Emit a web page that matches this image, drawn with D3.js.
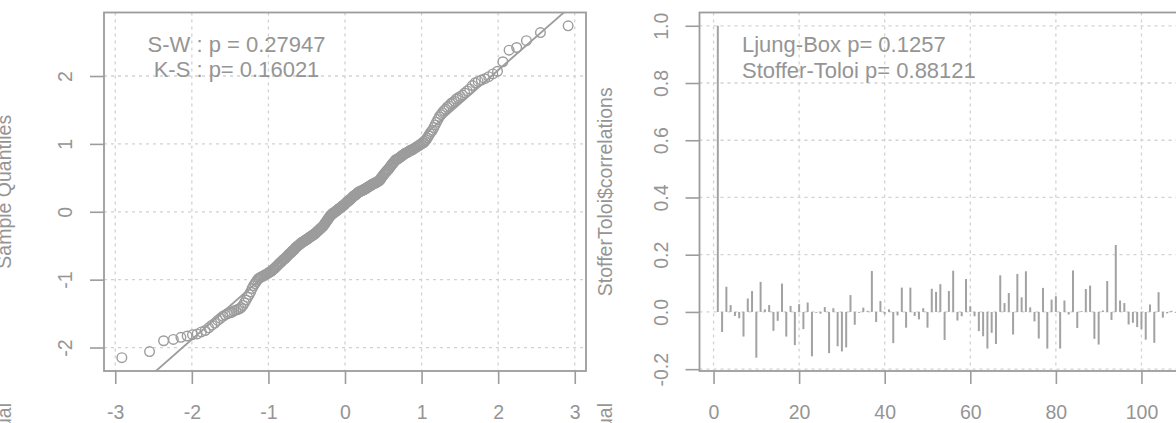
<!DOCTYPE html>
<html>
<head>
<meta charset="utf-8">
<script src="https://cdn.jsdelivr.net/npm/d3@7"></script>
<style>
  html, body { margin: 0; padding: 0; background: #fff; }
  svg text { font-family: "Liberation Sans", Arial, Helvetica, sans-serif; }
</style>
</head>
<body>
<svg id="chart" width="1176" height="423"></svg>
<script>
// Sorted standardized residuals (sample quantiles for the normal QQ plot)
const residuals = [
  -2.15,-2.06,-1.90,-1.88,-1.85,-1.83,-1.81,-1.80,-1.77,-1.75,
  -1.71,-1.67,-1.64,-1.60,-1.57,-1.54,-1.52,-1.50,-1.49,-1.48,
  -1.46,-1.45,-1.44,-1.43,-1.41,-1.38,-1.34,-1.30,-1.26,-1.22,
  -1.18,-1.13,-1.09,-1.06,-1.03,-1.00,-0.98,-0.97,-0.96,-0.95,
  -0.94,-0.93,-0.92,-0.91,-0.90,-0.89,-0.88,-0.87,-0.85,-0.84,
  -0.83,-0.81,-0.80,-0.78,-0.77,-0.75,-0.74,-0.73,-0.71,-0.70,
  -0.69,-0.68,-0.66,-0.65,-0.63,-0.62,-0.61,-0.60,-0.58,-0.57,
  -0.565,-0.55,-0.53,-0.52,-0.51,-0.50,-0.49,-0.48,-0.47,-0.46,
  -0.45,-0.44,-0.44,-0.43,-0.42,-0.41,-0.41,-0.40,-0.39,-0.38,
  -0.37,-0.37,-0.36,-0.35,-0.34,-0.34,-0.33,-0.32,-0.31,-0.30,
  -0.29,-0.28,-0.27,-0.26,-0.25,-0.24,-0.23,-0.22,-0.21,-0.20,
  -0.18,-0.17,-0.15,-0.14,-0.12,-0.11,-0.09,-0.08,-0.06,-0.05,
  -0.04,-0.03,-0.02,-0.02,-0.01,0.00,0.01,0.01,0.02,0.03,
  0.04,0.05,0.05,0.06,0.07,0.08,0.09,0.09,0.10,0.11,
  0.12,0.13,0.14,0.15,0.16,0.16,0.17,0.18,0.19,0.20,
  0.21,0.22,0.23,0.24,0.24,0.25,0.26,0.27,0.28,0.29,
  0.29,0.30,0.30,0.31,0.31,0.32,0.32,0.33,0.33,0.34,
  0.35,0.35,0.36,0.37,0.37,0.38,0.39,0.39,0.40,0.41,
  0.41,0.42,0.42,0.43,0.43,0.44,0.45,0.45,0.46,0.47,
  0.49,0.51,0.52,0.54,0.55,0.57,0.58,0.59,0.61,0.62,
  0.63,0.65,0.67,0.68,0.70,0.71,0.73,0.74,0.76,0.77,
  0.775,0.78,0.79,0.80,0.81,0.82,0.83,0.84,0.85,0.86,
  0.87,0.87,0.88,0.89,0.90,0.91,0.91,0.92,0.93,0.94,
  0.95,0.96,0.97,0.98,0.99,1.00,1.01,1.02,1.04,1.06,
  1.09,1.12,1.15,1.18,1.20,1.24,1.28,1.32,1.36,1.40,
  1.43,1.46,1.49,1.51,1.54,1.56,1.59,1.61,1.63,1.66,
  1.68,1.70,1.72,1.75,1.78,1.81,1.86,1.90,1.92,1.94,
  1.96,1.99,2.03,2.07,2.21,2.38,2.42,2.52,2.64,2.74
];

// Stoffer-Toloi correlations by lag (lag 1 .. 108)
const stofferToloi = [
  1.000,-0.070,0.088,0.024,-0.014,-0.022,-0.086,0.047,0.073,-0.160,
  0.105,0.009,0.024,-0.066,-0.031,0.099,-0.086,0.021,-0.116,0.027,
  -0.060,0.033,-0.155,-0.003,-0.006,0.017,-0.144,0.013,-0.120,-0.138,
  -0.124,0.059,-0.045,-0.003,0.015,0.004,0.143,-0.035,0.038,-0.008,
  0.009,-0.109,-0.012,0.085,-0.055,0.085,-0.014,-0.026,0.013,-0.055,
  0.081,0.070,0.097,-0.098,0.073,0.144,-0.030,-0.015,0.115,0.020,
  -0.015,-0.067,-0.085,-0.128,-0.073,-0.112,0.128,0.031,0.066,-0.079,
  0.133,0.051,0.142,0.016,-0.033,-0.093,0.084,-0.128,0.043,0.055,
  -0.128,0.040,-0.009,0.145,-0.056,0.003,0.080,0.092,-0.094,-0.114,
  0.005,0.108,-0.028,0.234,0.040,0.031,-0.044,-0.038,-0.053,-0.060,
  -0.097,0.026,-0.108,0.069,-0.020,-0.005,0.004,-0.003
];
const lags = stofferToloi.map((_, i) => i + 1);

const qqXTicks = [-3, -2, -1, 0, 1, 2, 3];
const qqYTicks = [-2, -1, 0, 1, 2];
const acfXTicks = [0, 20, 40, 60, 80, 100];
const acfYTicks = [-0.2, 0.0, 0.2, 0.4, 0.6, 0.8, 1.0];

const qqNotes = ["S-W : p = 0.27947", "K-S : p= 0.16021"];
const acfNotes = ["Ljung-Box p= 0.1257", "Stoffer-Toloi p= 0.88121"];
const qqYLabel = "Sample Quantiles";
const acfYLabel = "StofferToloi$correlations";
const lowerYLabel = "Residual";

// ---- style ----
const GRAY = "#9c9c9c";
const TEXT = "#959595";
const GRID = "#d2d2d2";
const TICK_FONT = 19.5;
const NOTE_FONT = 22;

// inverse standard normal CDF (Acklam)
function qnorm(p) {
  const a = [-3.969683028665376e+01, 2.209460984245205e+02, -2.759285104469687e+02, 1.383577518672690e+02, -3.066479806614716e+01, 2.506628277459239e+00];
  const b = [-5.447609879822406e+01, 1.615858368580409e+02, -1.556989798598866e+02, 6.680131188771972e+01, -1.328068155288572e+01];
  const c = [-7.784894002430293e-03, -3.223964580411365e-01, -2.400758277161838e+00, -2.549732539343734e+00, 4.374664141464968e+00, 2.938163982698783e+00];
  const d = [7.784695709041462e-03, 3.224671290700398e-01, 2.445134137142996e+00, 3.754408661907416e+00];
  const pl = 0.02425;
  if (p < pl) {
    const q = Math.sqrt(-2 * Math.log(p));
    return (((((c[0]*q+c[1])*q+c[2])*q+c[3])*q+c[4])*q+c[5]) / ((((d[0]*q+d[1])*q+d[2])*q+d[3])*q+1);
  }
  if (p > 1 - pl) {
    const q = Math.sqrt(-2 * Math.log(1 - p));
    return -(((((c[0]*q+c[1])*q+c[2])*q+c[3])*q+c[4])*q+c[5]) / ((((d[0]*q+d[1])*q+d[2])*q+d[3])*q+1);
  }
  const q = p - 0.5, r = q * q;
  return (((((a[0]*r+a[1])*r+a[2])*r+a[3])*r+a[4])*r+a[5])*q / (((((b[0]*r+b[1])*r+b[2])*r+b[3])*r+b[4])*r+1);
}

// R-style 4% axis expansion
function expand(ext) {
  const pad = (ext[1] - ext[0]) * 0.04;
  return [ext[0] - pad, ext[1] + pad];
}

// plain ASCII hyphen for negatives, as R prints them
const intFmt = d => String(d);
const oneDecFmt = d => d.toFixed(1);

const svg = d3.select("#chart");
svg.append("rect").attr("width", 1176).attr("height", 423).attr("fill", "#fff");

const TOP = 12.5, BOTTOM = 371;

function drawFrame(g, x, y, xTicks, yTicks, yFmt, clipId) {
  const [x0, x1] = x.range();
  // dotted grid
  g.append("g").selectAll("line").data(xTicks).join("line")
    .attr("x1", d => x(d)).attr("x2", d => x(d))
    .attr("y1", TOP).attr("y2", BOTTOM)
    .attr("stroke", GRID).attr("stroke-width", 1.3).attr("stroke-dasharray", "3,4");
  g.append("g").selectAll("line").data(yTicks).join("line")
    .attr("x1", x0).attr("x2", x1)
    .attr("y1", d => y(d)).attr("y2", d => y(d))
    .attr("stroke", GRID).attr("stroke-width", 1.3).attr("stroke-dasharray", "3,4");

  // bottom axis
  const xa = g.append("g").attr("transform", `translate(0,${BOTTOM})`)
    .call(d3.axisBottom(x).tickValues(xTicks).tickSize(13).tickSizeOuter(0).tickPadding(21)
      .tickFormat(intFmt));
  // left axis with labels turned parallel to the axis
  const ya = g.append("g").attr("transform", `translate(${x0},0)`)
    .call(d3.axisLeft(y).tickValues(yTicks).tickSize(14).tickSizeOuter(0).tickFormat(yFmt));
  ya.selectAll(".tick text")
    .attr("x", 0).attr("dy", null)
    .attr("text-anchor", "middle")
    .attr("transform", "translate(-32,0) rotate(-90)");
  [xa, ya].forEach(a => {
    a.select(".domain").remove();
    a.selectAll(".tick line").attr("stroke", GRAY).attr("stroke-width", 1.6);
    a.selectAll(".tick text").attr("fill", TEXT).attr("font-size", TICK_FONT)
      .attr("font-family", "'Liberation Sans', Arial, sans-serif");
  });

  // plot box
  g.append("rect")
    .attr("x", x0).attr("y", TOP).attr("width", x1 - x0).attr("height", BOTTOM - TOP)
    .attr("fill", "none").attr("stroke", GRAY).attr("stroke-width", 1.8);

  g.append("clipPath").attr("id", clipId).append("rect")
    .attr("x", x0).attr("y", TOP).attr("width", x1 - x0).attr("height", BOTTOM - TOP);
}

// ================= left: normal QQ plot =================
const n = residuals.length;
const theo = residuals.map((_, i) => qnorm((i + 1 - 0.5) / n));
const qq = residuals.map((v, i) => ({ t: theo[i], s: v }));

const xQ = d3.scaleLinear().domain(expand(d3.extent(theo))).range([104, 586]);
const yQ = d3.scaleLinear().domain(expand(d3.extent(residuals))).range([BOTTOM, TOP]);

const gL = svg.append("g");
drawFrame(gL, xQ, yQ, qqXTicks, qqYTicks, intFmt, "clipQQ");

// reference line through the quartiles
const q1 = d3.quantile(residuals, 0.25), q3 = d3.quantile(residuals, 0.75);
const z1 = qnorm(0.25), z3 = qnorm(0.75);
const slope = (q3 - q1) / (z3 - z1);
const intercept = q1 - slope * z1;
const [dx0, dx1] = xQ.domain();
gL.append("line")
  .attr("clip-path", "url(#clipQQ)")
  .attr("x1", xQ(dx0)).attr("y1", yQ(intercept + slope * dx0))
  .attr("x2", xQ(dx1)).attr("y2", yQ(intercept + slope * dx1))
  .attr("stroke", GRAY).attr("stroke-width", 1.8);

gL.append("g").selectAll("circle").data(qq).join("circle")
  .attr("cx", d => xQ(d.t)).attr("cy", d => yQ(d.s)).attr("r", 4.8)
  .attr("fill", "none").attr("stroke", GRAY).attr("stroke-width", 1.4);

gL.append("g").selectAll("text").data(qqNotes).join("text")
  .attr("x", 236.5).attr("y", (d, i) => 51.7 + i * 25.5)
  .attr("text-anchor", "middle").attr("font-size", NOTE_FONT).attr("fill", TEXT)
  .text(d => d);

gL.append("text")
  .attr("transform", `translate(11,${(TOP + BOTTOM) / 2}) rotate(-90)`)
  .attr("text-anchor", "middle").attr("font-size", TICK_FONT).attr("fill", TEXT)
  .text(qqYLabel);
gL.append("text")
  .attr("transform", "translate(11,403) rotate(-90)")
  .attr("text-anchor", "end").attr("font-size", TICK_FONT).attr("fill", TEXT)
  .text(lowerYLabel);

// ================= right: Stoffer-Toloi correlations =================
const xA = d3.scaleLinear().domain(expand(d3.extent(lags))).range([699.5, 1194]);
const yA = d3.scaleLinear().domain(expand(d3.extent(stofferToloi))).range([BOTTOM, TOP]);

const gR = svg.append("g");
drawFrame(gR, xA, yA, acfXTicks, acfYTicks, oneDecFmt, "clipACF");

gR.append("g").selectAll("line").data(lags).join("line")
  .attr("x1", d => xA(d)).attr("x2", d => xA(d))
  .attr("y1", yA(0)).attr("y2", (d, i) => yA(stofferToloi[i]))
  .attr("stroke", "#a2a2a2").attr("stroke-width", 2);

gR.append("g").selectAll("text").data(acfNotes).join("text")
  .attr("x", 742).attr("y", (d, i) => 51.7 + i * 26)
  .attr("text-anchor", "start").attr("font-size", NOTE_FONT).attr("fill", TEXT)
  .text(d => d);

gR.append("text")
  .attr("transform", `translate(612,${(TOP + BOTTOM) / 2}) rotate(-90)`)
  .attr("text-anchor", "middle").attr("font-size", TICK_FONT).attr("fill", TEXT)
  .text(acfYLabel);
gR.append("text")
  .attr("transform", "translate(612,403) rotate(-90)")
  .attr("text-anchor", "end").attr("font-size", TICK_FONT).attr("fill", TEXT)
  .text(lowerYLabel);
</script>
</body>
</html>
